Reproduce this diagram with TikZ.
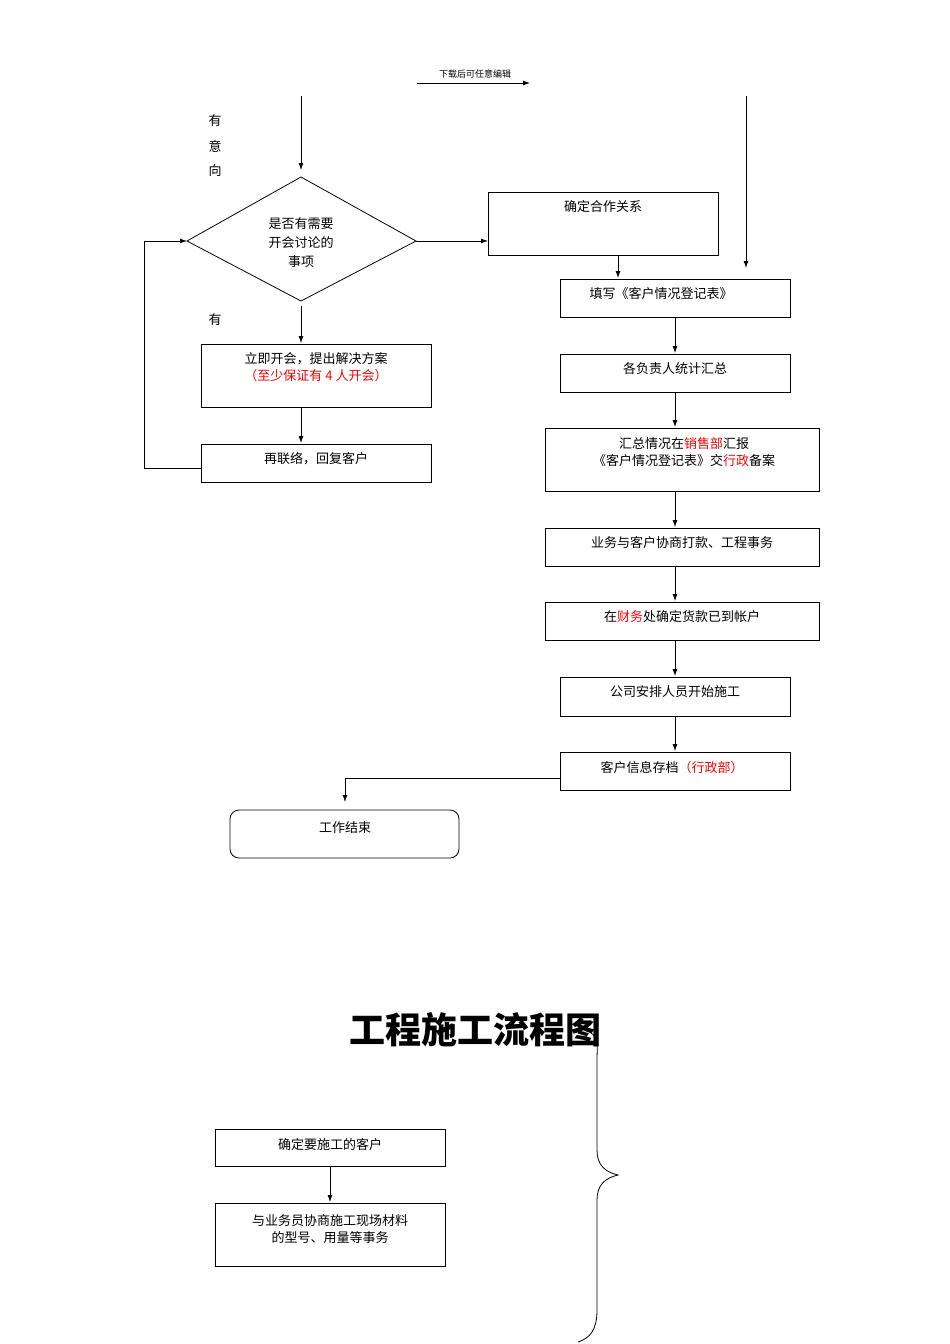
\documentclass[tikz,border=0pt]{standalone}
\usepackage{fontspec}
\setmainfont{Liberation Serif}
\newfontfamily\cjk{Noto Sans CJK SC}
\usetikzlibrary{arrows.meta,shapes.geometric}
\begin{document}
\begin{tikzpicture}[x=1pt,y=-1pt,
  every node/.style={font=\cjk\fontsize{13}{16}\selectfont},
  bx/.style={draw,thick,inner sep=0},
  arr/.style={-{Latex[length=7pt,width=5pt]},thick},
  ln/.style={thick}]
\useasboundingbox (0,0) rectangle (950,1344);
\node[font=\cjk\fontsize{9}{10}\selectfont] (dl) at (475,74) {下载后可任意编辑};
\coordinate (dla) at (417,83); \coordinate (dlb) at (530,83);
\draw[arr] (dla) -- (dlb);
\node (y1) at (215,121) {有}; \node (y2) at (215,146) {意}; \node (y3) at (215,171) {向};
\node (y4) at (215,320) {有};
% diamond
\coordinate (dt) at (301,177); \coordinate (dr) at (416,241); \coordinate (db) at (301,301); \coordinate (dL) at (187,241);
\draw[thick] (dt) -- (dr) -- (db) -- (dL) -- cycle;
\node[align=center,font=\cjk\fontsize{13}{19}\selectfont] (dtext) at (301,243) {是否有需要\\开会讨论的\\事项};
\coordinate (s1) at (301,96);
\draw[arr] (s1) -- (301,170);
\coordinate (s2) at (746,96);
\draw[arr] (s2) -- (746,268);
% boxes
\draw[ln] (488,192) rectangle (718,255); \node (b0) at (603,207) {确定合作关系};
\draw[arr] (dr) -- (488,241);
\draw[ln] (560,279) rectangle (790,317); \node (b1) at (661,294) {填写《客户情况登记表》};
\draw[arr] (618,255) -- (618,278);
\draw[arr] (675,317) -- (675,353);
\draw[ln] (560,354) rectangle (790,392); \node (b2) at (675,369) {各负责人统计汇总};
\draw[arr] (675,392) -- (675,427);
\draw[ln] (545,428) rectangle (819,491);
\node[align=center,font=\cjk\fontsize{13}{17}\selectfont] (b3) at (684,452) {汇总情况在\textcolor{red}{销售部}汇报\\《客户情况登记表》交\textcolor{red}{行政}备案};
\draw[arr] (675,491) -- (675,527);
\draw[ln] (545,528) rectangle (819,566); \node (b4) at (682,543) {业务与客户协商打款、工程事务};
\draw[arr] (675,566) -- (675,601);
\draw[ln] (545,602) rectangle (819,640); \node (b5) at (682,617) {在\textcolor{red}{财务}处确定货款已到帐户};
\draw[arr] (675,640) -- (675,676);
\draw[ln] (560,677) rectangle (790,716); \node (b6) at (675,692) {公司安排人员开始施工};
\draw[arr] (675,716) -- (675,751);
\draw[ln] (560,752) rectangle (790,790); \node (b7) at (672,768) {客户信息存档\textcolor{red}{（行政部）}};
\draw[ln] (560,778) -- (345,778); \draw[arr] (345,778) -- (345,802);
\draw[ln,rounded corners=9pt] (230,810) rectangle (459,858); \node (end) at (345,828) {工作结束};
% left
\draw[arr] (db) ++(0,5) -- (301,343);
\draw[ln] (201,344) rectangle (431,407);
\node[align=center,font=\cjk\fontsize{13}{17}\selectfont] (l1) at (316,367) {立即开会，提出解决方案\\\textcolor{red}{（至少保证有 4 人开会）}};
\draw[arr] (301,407) -- (301,443);
\draw[ln] (201,444) rectangle (431,482); \node (l2) at (316,459) {再联络，回复客户};
\draw[ln] (201,468) -- (144,468) -- (144,241); \draw[arr] (144,241) -- (dL);
% title
\node[font=\cjk\bfseries\fontsize{36}{40}\selectfont] (title) at (475,1030) {工程施工流程图};
\draw[thick] (585,1030) .. controls (600,1035) and (597,1045) .. (597,1060) -- (597,1150) .. controls (597,1165) and (605,1172) .. (618,1175) .. controls (605,1178) and (597,1185) .. (597,1200) -- (597,1310) .. controls (597,1330) and (590,1338) .. (578,1342);
\draw[ln] (215,1129) rectangle (445,1166); \node (c1) at (330,1145) {确定要施工的客户};
\draw[arr] (330,1166) -- (330,1202);
\draw[ln] (215,1203) rectangle (445,1266);
\node[align=center,font=\cjk\fontsize{13}{17}\selectfont] (c2) at (330,1229) {与业务员协商施工现场材料\\的型号、用量等事务};
\end{tikzpicture}
\end{document}
